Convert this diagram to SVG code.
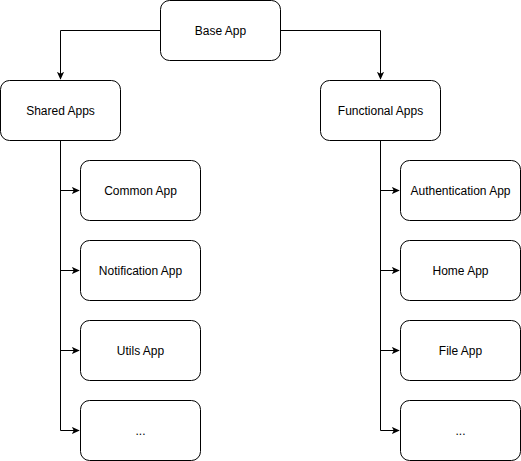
<svg xmlns="http://www.w3.org/2000/svg" width="521" height="461" viewBox="0 0 521 461">
<style>
.box{fill:#fff;stroke:#000;stroke-width:1}
.lbl{font-family:"Liberation Sans",Arial,sans-serif;font-size:12px;fill:#000;text-anchor:middle;dominant-baseline:central}
.ln{fill:none;stroke:#000;stroke-width:1}
</style>
<defs>
<marker id="arr" viewBox="0 0 10 10" refX="9" refY="5" markerWidth="8" markerHeight="8" markerUnits="userSpaceOnUse" orient="auto">
<path d="M0,0.5 L10,5 L0,9.5 L2.5,5 Z" fill="#000"/>
</marker>
</defs>
<g id="connectors">
<path class="ln" d="M160.5,30.5 H60.5 V79" marker-end="url(#arr)"/>
<path class="ln" d="M280.5,30.5 H380.5 V79" marker-end="url(#arr)"/>
<path class="ln" d="M60.5,140.5 V190.5 H79" marker-end="url(#arr)"/>
<path class="ln" d="M60.5,140.5 V270.5 H79" marker-end="url(#arr)"/>
<path class="ln" d="M60.5,140.5 V350.5 H79" marker-end="url(#arr)"/>
<path class="ln" d="M60.5,140.5 V430.5 H79" marker-end="url(#arr)"/>
<path class="ln" d="M380.5,140.5 V190.5 H399" marker-end="url(#arr)"/>
<path class="ln" d="M380.5,140.5 V270.5 H399" marker-end="url(#arr)"/>
<path class="ln" d="M380.5,140.5 V350.5 H399" marker-end="url(#arr)"/>
<path class="ln" d="M380.5,140.5 V430.5 H399" marker-end="url(#arr)"/>
</g>
<g id="base"><rect class="box" x="160.5" y="0.5" width="120" height="60" rx="9"/><text class="lbl" x="220.5" y="30.5">Base App</text></g>
<g id="shared"><rect class="box" x="0.5" y="80.5" width="120" height="60" rx="9"/><text class="lbl" x="60.5" y="110.5">Shared Apps</text></g>
<g id="functional"><rect class="box" x="320.5" y="80.5" width="120" height="60" rx="9"/><text class="lbl" x="380.5" y="110.5">Functional Apps</text></g>
<g id="common"><rect class="box" x="80.5" y="160.5" width="120" height="60" rx="9"/><text class="lbl" x="140.5" y="190.5">Common App</text></g>
<g id="notification"><rect class="box" x="80.5" y="240.5" width="120" height="60" rx="9"/><text class="lbl" x="140.5" y="270.5">Notification App</text></g>
<g id="utils"><rect class="box" x="80.5" y="320.5" width="120" height="60" rx="9"/><text class="lbl" x="140.5" y="350.5">Utils App</text></g>
<g id="shared-more"><rect class="box" x="80.5" y="400.5" width="120" height="60" rx="9"/><text class="lbl" x="140.5" y="430.5">...</text></g>
<g id="auth"><rect class="box" x="400.5" y="160.5" width="120" height="60" rx="9"/><text class="lbl" x="460.5" y="190.5">Authentication App</text></g>
<g id="home"><rect class="box" x="400.5" y="240.5" width="120" height="60" rx="9"/><text class="lbl" x="460.5" y="270.5">Home App</text></g>
<g id="file"><rect class="box" x="400.5" y="320.5" width="120" height="60" rx="9"/><text class="lbl" x="460.5" y="350.5">File App</text></g>
<g id="functional-more"><rect class="box" x="400.5" y="400.5" width="120" height="60" rx="9"/><text class="lbl" x="460.5" y="430.5">...</text></g>
</svg>
